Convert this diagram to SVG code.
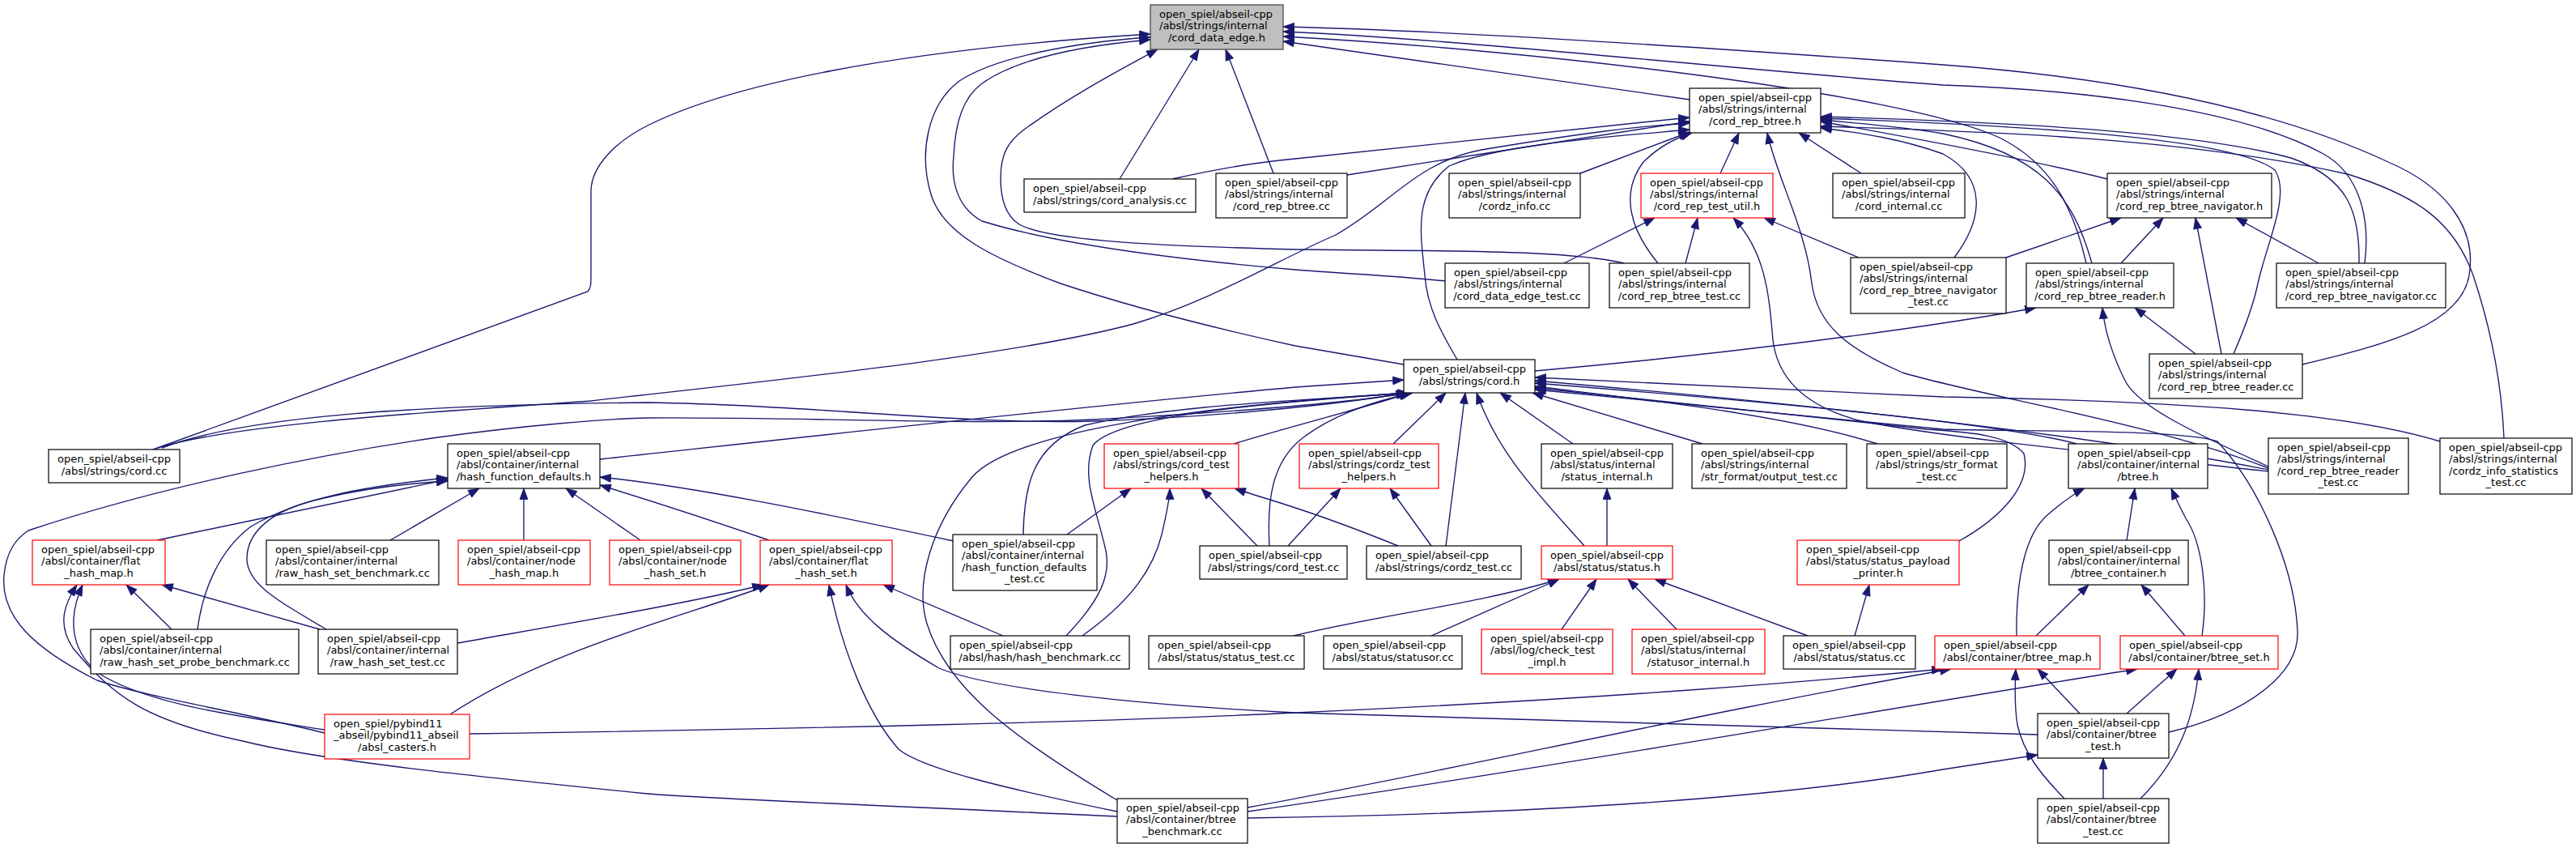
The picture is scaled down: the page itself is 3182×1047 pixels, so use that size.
<svg xmlns="http://www.w3.org/2000/svg" width="3182" height="1047" viewBox="0 0 3182 1047">
<style>
.node rect{fill:#fff;stroke:#000;stroke-width:1.2}
.node.red rect{stroke:#ff0000}
.node.main rect{fill:#bfbfbf;stroke:#404040}
.node text{font-family:"DejaVu Sans","Liberation Sans",sans-serif;font-size:13px;fill:#000}
.node text.c{text-anchor:middle}
#edges path{fill:none;stroke:#191970;stroke-width:1.35;marker-end:url(#arr)}
</style>
<defs>
<marker id="arr" markerUnits="userSpaceOnUse" markerWidth="15" markerHeight="11" viewBox="0 0 15 11" refX="14" refY="5.5" orient="auto">
<path d="M0.5,0.5 L14,5.5 L0.5,10.5 Z" fill="#191970" stroke="#191970" stroke-width="0.8"/>
</marker>
</defs>
<rect width="3182" height="1047" fill="#fff"/>
<g id="edges">
<path d="M189,555 L726,360 C730,356 730,350 730,340 L730,235 C731,205 760,175 800,155 C900,105 1100,62 1421,42"/>
<path d="M1734,450 L1600,427 C1500,405 1400,380 1310,350 C1230,320 1165,290 1150,240 C1135,190 1145,130 1185,100 C1230,70 1330,52 1421,46"/>
<path d="M1785,347 C1720,340 1660,338 1600,333 C1450,320 1300,300 1213,273 C1180,255 1175,220 1178,193 C1180,150 1190,120 1213,103 C1260,70 1340,56 1421,49"/>
<path d="M2006,325 C1950,312 1850,310 1700,309 L1600,308 C1400,303 1290,295 1259,277 C1240,265 1236,240 1236,220 C1236,190 1245,175 1265,160 C1320,120 1380,88 1430,61"/>
<path d="M1383,221 L1481,61"/>
<path d="M1573,214 L1514,61"/>
<path d="M2087,123 L1585,51"/>
<path d="M2577,325 C2560,250 2530,200 2470,170 C2350,115 1900,62 1585,45"/>
<path d="M2921,325 C2928,270 2915,215 2870,190 C2760,130 2550,110 2400,105 C2100,82 1800,48 1585,39"/>
<path d="M2844,450 C2950,425 3040,400 3050,340 C3060,280 3020,230 2950,200 C2800,130 2600,95 2400,80 C2100,58 1800,38 1585,33"/>
<path d="M1448,221 C1520,205 1560,200 1600,196 L2087,145"/>
<path d="M1664,216 L2087,150"/>
<path d="M195,553 C300,520 600,505 730,495 C950,470 1250,440 1400,400 C1500,370 1580,320 1650,290 C1720,250 1750,200 1830,185 C1950,165 2020,156 2087,152"/>
<path d="M1800,444 C1780,410 1763,380 1760,340 C1755,290 1745,240 1790,205 C1850,178 2000,168 2087,160"/>
<path d="M1952,214 L2087,163"/>
<path d="M2125,214 L2148,164"/>
<path d="M2048,325 C2015,285 2000,240 2030,200 C2045,185 2065,172 2090,164"/>
<path d="M2802,578 C2650,520 2450,490 2350,460 C2280,430 2245,400 2238,350 C2230,280 2195,220 2183,164"/>
<path d="M2299,214 L2222,164"/>
<path d="M2603,221 C2500,195 2350,168 2249,150"/>
<path d="M2584,325 C2560,240 2520,190 2400,165 C2340,155 2290,152 2249,148"/>
<path d="M2914,325 C2915,260 2900,220 2830,195 C2700,160 2450,150 2249,144"/>
<path d="M2414,318 C2450,270 2455,220 2400,190 C2350,172 2300,164 2249,158"/>
<path d="M2759,437 C2775,400 2785,370 2789,350 C2800,300 2830,240 2810,210 C2760,170 2500,155 2249,146"/>
<path d="M3093,541 C3090,470 3075,400 3055,340 C3030,270 2980,240 2900,215 C2700,170 2450,162 2249,156"/>
<path d="M1932,325 L2044,269"/>
<path d="M2082,325 L2097,269"/>
<path d="M2296,318 L2179,269"/>
<path d="M2802,582 C2600,560 2400,540 2300,520 C2220,500 2195,460 2190,420 C2185,360 2180,310 2141,269"/>
<path d="M2478,318 L2620,269"/>
<path d="M2620,325 L2672,269"/>
<path d="M2744,437 L2712,269"/>
<path d="M2864,325 L2762,269"/>
<path d="M1896,458 C2100,440 2350,410 2515,380"/>
<path d="M2802,576 C2700,530 2640,500 2625,470 C2610,440 2600,410 2597,380"/>
<path d="M2712,437 L2637,380"/>
<path d="M200,553 C300,515 500,500 800,497 C1000,500 1200,525 1350,520 C1500,515 1650,500 1738,485"/>
<path d="M741,567 C900,550 1300,505 1600,478 L1734,469"/>
<path d="M1524,548 C1600,525 1680,505 1742,485"/>
<path d="M1721,548 L1786,485"/>
<path d="M1943,548 L1853,485"/>
<path d="M2103,548 L1893,485"/>
<path d="M2319,548 C2200,510 2000,490 1896,477"/>
<path d="M2565,548 C2500,530 2300,505 1896,473"/>
<path d="M2802,580 C2600,540 2300,505 1896,470"/>
<path d="M3014,545 C2900,510 2700,495 2400,490 C2200,480 2000,470 1896,466"/>
<path d="M401,905 C300,880 180,860 120,840 C40,800 0,760 5,710 C8,680 20,665 35,655 C200,600 400,560 541,540 C650,525 750,517 800,516 C1000,515 1200,525 1350,518 C1500,510 1650,500 1740,485"/>
<path d="M1264,660 C1265,600 1275,550 1340,525 C1450,500 1600,495 1740,485"/>
<path d="M1317,785 C1360,740 1372,710 1366,680 C1355,630 1335,590 1350,550 C1380,510 1600,495 1740,485"/>
<path d="M1568,674 C1565,620 1570,570 1610,540 C1650,510 1700,495 1745,485"/>
<path d="M1786,674 L1810,485"/>
<path d="M1957,674 C1900,610 1850,560 1824,485"/>
<path d="M2420,668 C2470,640 2510,600 2500,560 C2480,535 2420,533 2380,530 C2200,510 2000,490 1896,479"/>
<path d="M1380,988 C1250,910 1170,850 1145,770 C1130,720 1150,650 1200,590 C1250,530 1500,500 1740,485"/>
<path d="M2679,904 C2780,880 2840,830 2838,780 C2835,700 2790,600 2739,545 C2700,530 2500,533 2400,530 C2200,510 2000,490 1896,481"/>
<path d="M194,667 L553,592"/>
<path d="M482,667 L592,603"/>
<path d="M647,667 L647,603"/>
<path d="M791,667 L699,603"/>
<path d="M950,667 C880,643 800,617 741,599"/>
<path d="M1178,668 C1000,630 850,600 741,589"/>
<path d="M244,777 C250,730 270,680 310,650 C370,615 450,600 553,590"/>
<path d="M403,777 C340,740 305,720 305,690 C305,660 330,630 400,615 C450,603 500,597 553,594"/>
<path d="M1318,660 L1397,603"/>
<path d="M1337,785 C1400,740 1425,700 1435,660 C1442,630 1445,615 1445,603"/>
<path d="M1553,674 L1484,603"/>
<path d="M1727,674 C1680,655 1640,640 1600,627 C1570,617 1545,610 1525,603"/>
<path d="M1591,674 L1656,603"/>
<path d="M1768,674 L1717,603"/>
<path d="M1985,674 L1985,603"/>
<path d="M1598,785 C1700,760 1830,745 1926,715"/>
<path d="M1768,785 L1926,715"/>
<path d="M1929,777 L1972,715"/>
<path d="M2071,777 L2011,715"/>
<path d="M2233,785 L2044,715"/>
<path d="M2291,785 L2309,722"/>
<path d="M2627,667 L2637,603"/>
<path d="M2491,785 C2490,720 2500,660 2530,635 C2550,618 2565,608 2575,603"/>
<path d="M2720,785 C2728,730 2720,670 2700,640 C2692,625 2686,612 2682,603"/>
<path d="M2515,785 L2580,722"/>
<path d="M2699,785 L2645,722"/>
<path d="M212,777 L156,722"/>
<path d="M395,777 L200,722"/>
<path d="M401,901 C300,885 180,870 120,830 C85,800 85,760 102,722"/>
<path d="M1380,1008 C1100,995 850,985 800,980 C600,960 400,940 300,915 C180,890 140,860 90,800 C70,770 80,745 95,722"/>
<path d="M565,794 C700,770 850,745 943,722"/>
<path d="M556,882 C680,800 850,760 950,722"/>
<path d="M1239,785 L1091,722"/>
<path d="M1380,1002 C1250,975 1140,950 1110,925 C1070,880 1040,800 1024,722"/>
<path d="M2517,907 C2200,900 1900,890 1600,880 C1400,870 1220,850 1160,825 C1100,790 1060,760 1045,722"/>
<path d="M580,906 C1000,900 1400,890 1600,880 C2000,862 2250,840 2400,826"/>
<path d="M2569,881 L2517,826"/>
<path d="M2550,986 C2520,955 2500,930 2492,895 C2488,870 2489,845 2490,826"/>
<path d="M1541,997 C1800,950 2100,880 2410,826"/>
<path d="M2627,881 L2689,826"/>
<path d="M2644,986 C2690,940 2710,890 2716,826"/>
<path d="M1541,1002 C1900,950 2300,880 2640,826"/>
<path d="M2598,986 L2598,936"/>
<path d="M1541,1010 C1900,1005 2200,985 2400,950 L2517,932"/>
</g>
<g id="n-cord_data_edge_h" class="node main"><rect x="1421" y="6" width="164" height="55"/><text x="1432" y="22.2">open_spiel/abseil-cpp</text><text x="1432" y="36.4">/absl/strings/internal</text><text class="c" x="1503" y="50.6">/cord_data_edge.h</text></g>
<g id="n-cord_rep_btree_h" class="node"><rect x="2087" y="109" width="162" height="55"/><text x="2098" y="125.2">open_spiel/abseil-cpp</text><text x="2098" y="139.4">/absl/strings/internal</text><text class="c" x="2168" y="153.6">/cord_rep_btree.h</text></g>
<g id="n-cord_analysis_cc" class="node"><rect x="1265" y="221" width="212" height="41"/><text x="1276" y="237.3">open_spiel/abseil-cpp</text><text class="c" x="1371" y="251.5">/absl/strings/cord_analysis.cc</text></g>
<g id="n-cord_rep_btree_cc" class="node"><rect x="1502" y="214" width="162" height="55"/><text x="1513" y="230.2">open_spiel/abseil-cpp</text><text x="1513" y="244.4">/absl/strings/internal</text><text class="c" x="1583" y="258.6">/cord_rep_btree.cc</text></g>
<g id="n-cordz_info_cc" class="node"><rect x="1790" y="214" width="162" height="55"/><text x="1801" y="230.2">open_spiel/abseil-cpp</text><text x="1801" y="244.4">/absl/strings/internal</text><text class="c" x="1871" y="258.6">/cordz_info.cc</text></g>
<g id="n-cord_rep_test_util_h" class="node red"><rect x="2027" y="214" width="163" height="55"/><text x="2038" y="230.2">open_spiel/abseil-cpp</text><text x="2038" y="244.4">/absl/strings/internal</text><text class="c" x="2108.5" y="258.6">/cord_rep_test_util.h</text></g>
<g id="n-cord_internal_cc" class="node"><rect x="2264" y="214" width="163" height="55"/><text x="2275" y="230.2">open_spiel/abseil-cpp</text><text x="2275" y="244.4">/absl/strings/internal</text><text class="c" x="2345.5" y="258.6">/cord_internal.cc</text></g>
<g id="n-cord_rep_btree_navigator_h" class="node"><rect x="2603" y="214" width="203" height="55"/><text x="2614" y="230.2">open_spiel/abseil-cpp</text><text x="2614" y="244.4">/absl/strings/internal</text><text class="c" x="2704.5" y="258.6">/cord_rep_btree_navigator.h</text></g>
<g id="n-cord_data_edge_test_cc" class="node"><rect x="1785" y="325" width="178" height="55"/><text x="1796" y="341.2">open_spiel/abseil-cpp</text><text x="1796" y="355.4">/absl/strings/internal</text><text class="c" x="1874" y="369.6">/cord_data_edge_test.cc</text></g>
<g id="n-cord_rep_btree_test_cc" class="node"><rect x="1988" y="325" width="173" height="55"/><text x="1999" y="341.2">open_spiel/abseil-cpp</text><text x="1999" y="355.4">/absl/strings/internal</text><text class="c" x="2074.5" y="369.6">/cord_rep_btree_test.cc</text></g>
<g id="n-cord_rep_btree_navigator_test_cc" class="node"><rect x="2286" y="318" width="192" height="69"/><text x="2297" y="334.2">open_spiel/abseil-cpp</text><text x="2297" y="348.4">/absl/strings/internal</text><text x="2297" y="362.6">/cord_rep_btree_navigator</text><text class="c" x="2382" y="376.8">_test.cc</text></g>
<g id="n-cord_rep_btree_reader_h" class="node"><rect x="2503" y="325" width="182" height="55"/><text x="2514" y="341.2">open_spiel/abseil-cpp</text><text x="2514" y="355.4">/absl/strings/internal</text><text class="c" x="2594" y="369.6">/cord_rep_btree_reader.h</text></g>
<g id="n-cord_rep_btree_navigator_cc" class="node"><rect x="2812" y="325" width="209" height="55"/><text x="2823" y="341.2">open_spiel/abseil-cpp</text><text x="2823" y="355.4">/absl/strings/internal</text><text class="c" x="2916.5" y="369.6">/cord_rep_btree_navigator.cc</text></g>
<g id="n-cord_h" class="node"><rect x="1734" y="444" width="162" height="41"/><text x="1745" y="460.3">open_spiel/abseil-cpp</text><text class="c" x="1815" y="474.5">/absl/strings/cord.h</text></g>
<g id="n-cord_rep_btree_reader_cc" class="node"><rect x="2655" y="437" width="189" height="55"/><text x="2666" y="453.2">open_spiel/abseil-cpp</text><text x="2666" y="467.4">/absl/strings/internal</text><text class="c" x="2749.5" y="481.6">/cord_rep_btree_reader.cc</text></g>
<g id="n-cord_cc" class="node"><rect x="60" y="555" width="162" height="41"/><text x="71" y="571.3">open_spiel/abseil-cpp</text><text class="c" x="141" y="585.5">/absl/strings/cord.cc</text></g>
<g id="n-hash_function_defaults_h" class="node"><rect x="553" y="548" width="188" height="55"/><text x="564" y="564.2">open_spiel/abseil-cpp</text><text x="564" y="578.4">/absl/container/internal</text><text class="c" x="647" y="592.6">/hash_function_defaults.h</text></g>
<g id="n-cord_test_helpers_h" class="node red"><rect x="1364" y="548" width="166" height="55"/><text x="1375" y="564.2">open_spiel/abseil-cpp</text><text x="1375" y="578.4">/absl/strings/cord_test</text><text class="c" x="1447" y="592.6">_helpers.h</text></g>
<g id="n-cordz_test_helpers_h" class="node red"><rect x="1605" y="548" width="172" height="55"/><text x="1616" y="564.2">open_spiel/abseil-cpp</text><text x="1616" y="578.4">/absl/strings/cordz_test</text><text class="c" x="1691" y="592.6">_helpers.h</text></g>
<g id="n-status_internal_h" class="node"><rect x="1904" y="548" width="162" height="55"/><text x="1915" y="564.2">open_spiel/abseil-cpp</text><text x="1915" y="578.4">/absl/status/internal</text><text class="c" x="1985" y="592.6">/status_internal.h</text></g>
<g id="n-output_test_cc" class="node"><rect x="2090" y="548" width="191" height="55"/><text x="2101" y="564.2">open_spiel/abseil-cpp</text><text x="2101" y="578.4">/absl/strings/internal</text><text class="c" x="2185.5" y="592.6">/str_format/output_test.cc</text></g>
<g id="n-str_format_test_cc" class="node"><rect x="2306" y="548" width="173" height="55"/><text x="2317" y="564.2">open_spiel/abseil-cpp</text><text x="2317" y="578.4">/absl/strings/str_format</text><text class="c" x="2392.5" y="592.6">_test.cc</text></g>
<g id="n-btree_h" class="node"><rect x="2555" y="548" width="172" height="55"/><text x="2566" y="564.2">open_spiel/abseil-cpp</text><text x="2566" y="578.4">/absl/container/internal</text><text class="c" x="2641" y="592.6">/btree.h</text></g>
<g id="n-cord_rep_btree_reader_test_cc" class="node"><rect x="2802" y="541" width="173" height="69"/><text x="2813" y="557.2">open_spiel/abseil-cpp</text><text x="2813" y="571.4">/absl/strings/internal</text><text x="2813" y="585.6">/cord_rep_btree_reader</text><text class="c" x="2888.5" y="599.8">_test.cc</text></g>
<g id="n-cordz_info_statistics_test_cc" class="node"><rect x="3014" y="541" width="163" height="69"/><text x="3025" y="557.2">open_spiel/abseil-cpp</text><text x="3025" y="571.4">/absl/strings/internal</text><text x="3025" y="585.6">/cordz_info_statistics</text><text class="c" x="3095.5" y="599.8">_test.cc</text></g>
<g id="n-flat_hash_map_h" class="node red"><rect x="40" y="667" width="164" height="55"/><text x="51" y="683.2">open_spiel/abseil-cpp</text><text x="51" y="697.4">/absl/container/flat</text><text class="c" x="122" y="711.6">_hash_map.h</text></g>
<g id="n-raw_hash_set_benchmark_cc" class="node"><rect x="329" y="667" width="213" height="55"/><text x="340" y="683.2">open_spiel/abseil-cpp</text><text x="340" y="697.4">/absl/container/internal</text><text class="c" x="435.5" y="711.6">/raw_hash_set_benchmark.cc</text></g>
<g id="n-node_hash_map_h" class="node red"><rect x="566" y="667" width="163" height="55"/><text x="577" y="683.2">open_spiel/abseil-cpp</text><text x="577" y="697.4">/absl/container/node</text><text class="c" x="647.5" y="711.6">_hash_map.h</text></g>
<g id="n-node_hash_set_h" class="node red"><rect x="753" y="667" width="162" height="55"/><text x="764" y="683.2">open_spiel/abseil-cpp</text><text x="764" y="697.4">/absl/container/node</text><text class="c" x="834" y="711.6">_hash_set.h</text></g>
<g id="n-flat_hash_set_h" class="node red"><rect x="939" y="667" width="163" height="55"/><text x="950" y="683.2">open_spiel/abseil-cpp</text><text x="950" y="697.4">/absl/container/flat</text><text class="c" x="1020.5" y="711.6">_hash_set.h</text></g>
<g id="n-hash_function_defaults_test_cc" class="node"><rect x="1177" y="660" width="178" height="69"/><text x="1188" y="676.2">open_spiel/abseil-cpp</text><text x="1188" y="690.4">/absl/container/internal</text><text x="1188" y="704.6">/hash_function_defaults</text><text class="c" x="1266" y="718.8">_test.cc</text></g>
<g id="n-cord_test_cc" class="node"><rect x="1482" y="674" width="182" height="41"/><text x="1493" y="690.3">open_spiel/abseil-cpp</text><text class="c" x="1573" y="704.5">/absl/strings/cord_test.cc</text></g>
<g id="n-cordz_test_cc" class="node"><rect x="1688" y="674" width="191" height="41"/><text x="1699" y="690.3">open_spiel/abseil-cpp</text><text class="c" x="1783.5" y="704.5">/absl/strings/cordz_test.cc</text></g>
<g id="n-status_h" class="node red"><rect x="1904" y="674" width="162" height="41"/><text x="1915" y="690.3">open_spiel/abseil-cpp</text><text class="c" x="1985" y="704.5">/absl/status/status.h</text></g>
<g id="n-status_payload_printer_h" class="node red"><rect x="2220" y="667" width="200" height="55"/><text x="2231" y="683.2">open_spiel/abseil-cpp</text><text x="2231" y="697.4">/absl/status/status_payload</text><text class="c" x="2320" y="711.6">_printer.h</text></g>
<g id="n-btree_container_h" class="node"><rect x="2531" y="667" width="172" height="55"/><text x="2542" y="683.2">open_spiel/abseil-cpp</text><text x="2542" y="697.4">/absl/container/internal</text><text class="c" x="2617" y="711.6">/btree_container.h</text></g>
<g id="n-raw_hash_set_probe_benchmark_cc" class="node"><rect x="112" y="777" width="257" height="55"/><text x="123" y="793.2">open_spiel/abseil-cpp</text><text x="123" y="807.4">/absl/container/internal</text><text class="c" x="240.5" y="821.6">/raw_hash_set_probe_benchmark.cc</text></g>
<g id="n-raw_hash_set_test_cc" class="node"><rect x="393" y="777" width="172" height="55"/><text x="404" y="793.2">open_spiel/abseil-cpp</text><text x="404" y="807.4">/absl/container/internal</text><text class="c" x="479" y="821.6">/raw_hash_set_test.cc</text></g>
<g id="n-hash_benchmark_cc" class="node"><rect x="1174" y="785" width="221" height="41"/><text x="1185" y="801.3">open_spiel/abseil-cpp</text><text class="c" x="1284.5" y="815.5">/absl/hash/hash_benchmark.cc</text></g>
<g id="n-status_test_cc" class="node"><rect x="1419" y="785" width="192" height="41"/><text x="1430" y="801.3">open_spiel/abseil-cpp</text><text class="c" x="1515" y="815.5">/absl/status/status_test.cc</text></g>
<g id="n-statusor_cc" class="node"><rect x="1635" y="785" width="171" height="41"/><text x="1646" y="801.3">open_spiel/abseil-cpp</text><text class="c" x="1720.5" y="815.5">/absl/status/statusor.cc</text></g>
<g id="n-check_test_impl_h" class="node red"><rect x="1830" y="777" width="162" height="55"/><text x="1841" y="793.2">open_spiel/abseil-cpp</text><text x="1841" y="807.4">/absl/log/check_test</text><text class="c" x="1911" y="821.6">_impl.h</text></g>
<g id="n-statusor_internal_h" class="node red"><rect x="2016" y="777" width="164" height="55"/><text x="2027" y="793.2">open_spiel/abseil-cpp</text><text x="2027" y="807.4">/absl/status/internal</text><text class="c" x="2098" y="821.6">/statusor_internal.h</text></g>
<g id="n-status_cc" class="node"><rect x="2203" y="785" width="163" height="41"/><text x="2214" y="801.3">open_spiel/abseil-cpp</text><text class="c" x="2284.5" y="815.5">/absl/status/status.cc</text></g>
<g id="n-btree_map_h" class="node red"><rect x="2390" y="785" width="204" height="41"/><text x="2401" y="801.3">open_spiel/abseil-cpp</text><text class="c" x="2492" y="815.5">/absl/container/btree_map.h</text></g>
<g id="n-btree_set_h" class="node red"><rect x="2619" y="785" width="195" height="41"/><text x="2630" y="801.3">open_spiel/abseil-cpp</text><text class="c" x="2716.5" y="815.5">/absl/container/btree_set.h</text></g>
<g id="n-absl_casters_h" class="node red"><rect x="401" y="882" width="179" height="55"/><text x="412" y="898.2">open_spiel/pybind11</text><text x="412" y="912.4">_abseil/pybind11_abseil</text><text class="c" x="490.5" y="926.6">/absl_casters.h</text></g>
<g id="n-btree_test_h" class="node"><rect x="2517" y="881" width="162" height="55"/><text x="2528" y="897.2">open_spiel/abseil-cpp</text><text x="2528" y="911.4">/absl/container/btree</text><text class="c" x="2598" y="925.6">_test.h</text></g>
<g id="n-btree_benchmark_cc" class="node"><rect x="1380" y="986" width="161" height="55"/><text x="1391" y="1002.2">open_spiel/abseil-cpp</text><text x="1391" y="1016.4">/absl/container/btree</text><text class="c" x="1460.5" y="1030.6">_benchmark.cc</text></g>
<g id="n-btree_test_cc" class="node"><rect x="2517" y="986" width="162" height="55"/><text x="2528" y="1002.2">open_spiel/abseil-cpp</text><text x="2528" y="1016.4">/absl/container/btree</text><text class="c" x="2598" y="1030.6">_test.cc</text></g>
</svg>
